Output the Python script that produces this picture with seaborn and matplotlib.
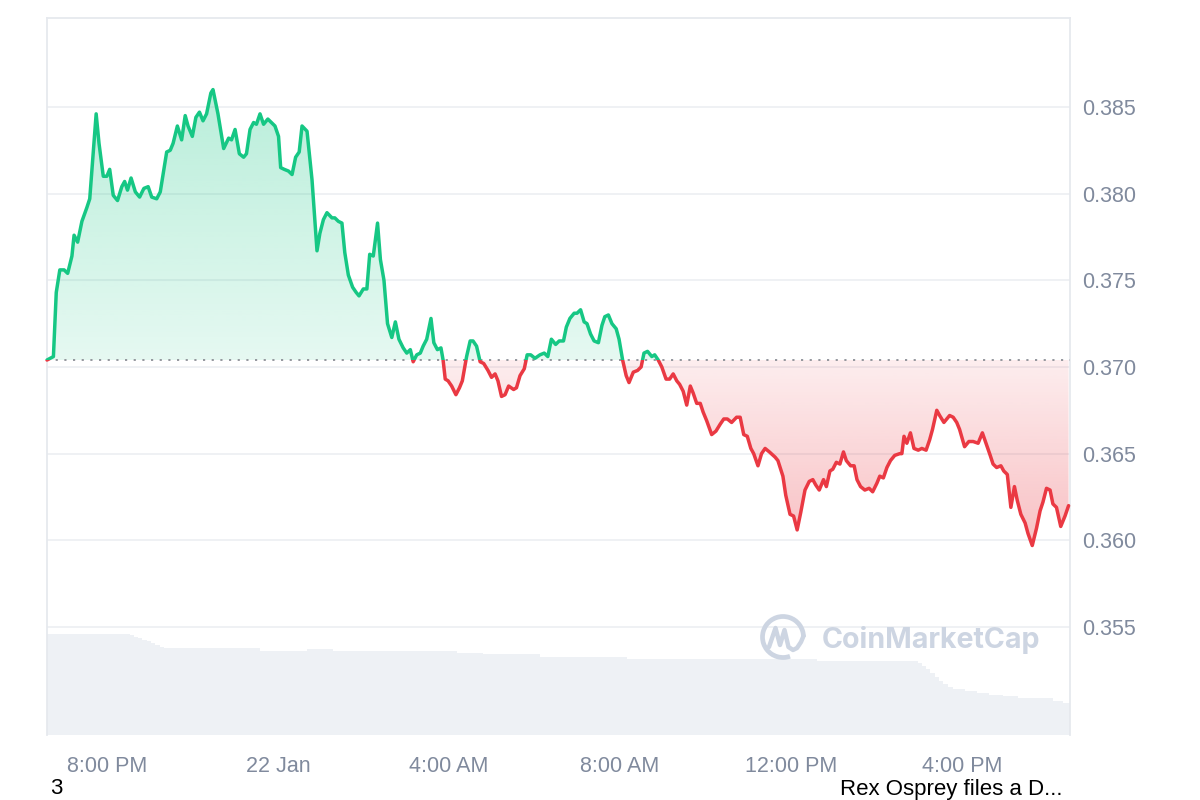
import numpy as np
import pandas as pd
import matplotlib
matplotlib.use("Agg")
import matplotlib.pyplot as plt
import seaborn as sns
from matplotlib.colors import to_rgb
from matplotlib.path import Path
from matplotlib.patches import PathPatch, Rectangle, Arc

# 24h window, minutes after the first sample
start = pd.Timestamp("2025-01-21 18:36")
end_minute = 1436

minutes = [
    0, 9, 13, 18, 24, 29, 35, 38, 43, 49,
    56, 60, 69, 73, 79, 84, 88, 93, 99, 105,
    109, 113, 118, 124, 130, 136, 142, 147, 154, 159,
    168, 173, 177, 183, 189, 194, 198, 204, 209, 214,
    219, 224, 230, 233, 240, 248, 255, 259, 264, 270,
    276, 280, 285, 290, 294, 299, 304, 310, 315, 320,
    325, 328, 333, 339, 344, 349, 354, 358, 365, 372,
    379, 383, 388, 393, 400, 404, 409, 414, 418, 423,
    429, 434, 438, 444, 449, 453, 458, 464, 468, 473,
    478, 484, 489, 494, 500, 505, 510, 514, 519, 524,
    528, 533, 539, 543, 548, 553, 556, 559, 563, 568,
    574, 579, 583, 589, 594, 598, 603, 608, 613, 619,
    624, 629, 633, 638, 643, 648, 655, 659, 664, 670,
    674, 679, 685, 692, 698, 703, 708, 714, 719, 725,
    729, 734, 740, 744, 749, 754, 758, 763, 768, 774,
    779, 783, 788, 793, 799, 803, 808, 813, 817, 823,
    829, 834, 838, 843, 849, 853, 858, 863, 869, 874,
    879, 884, 888, 893, 898, 903, 907, 912, 917, 921,
    926, 933, 939, 945, 950, 955, 961, 968, 973, 978,
    983, 988, 992, 998, 1003, 1008, 1014, 1022, 1026, 1033,
    1037, 1043, 1048, 1053, 1058, 1064, 1070, 1075, 1079, 1084,
    1090, 1094, 1099, 1103, 1108, 1113, 1118, 1122, 1128, 1133,
    1137, 1142, 1148, 1154, 1159, 1165, 1169, 1174, 1179, 1184,
    1190, 1197, 1200, 1203, 1207, 1212, 1217, 1223, 1228, 1234,
    1239, 1243, 1249, 1253, 1259, 1263, 1267, 1272, 1277, 1281,
    1288, 1294, 1300, 1307, 1313, 1319, 1324, 1328, 1333, 1339,
    1343, 1348, 1353, 1358, 1362, 1367, 1373, 1377, 1383, 1389,
    1394, 1398, 1403, 1408, 1412, 1417, 1423, 1429, 1434,
]

price = [
    0.3704, 0.3706, 0.3743, 0.3756, 0.3756, 0.3754, 0.3764, 0.3776, 0.3772, 0.3784,
    0.3792, 0.3797, 0.3846, 0.3829, 0.3810, 0.3810, 0.3814, 0.3799, 0.3796, 0.3804,
    0.3807, 0.3802, 0.3809, 0.3801, 0.3798, 0.3803, 0.3804, 0.3798, 0.3797, 0.3801,
    0.3824, 0.3825, 0.3829, 0.3839, 0.3831, 0.3845, 0.3839, 0.3833, 0.3844, 0.3847,
    0.3842, 0.3846, 0.3858, 0.3860, 0.3846, 0.3826, 0.3832, 0.3831, 0.3837, 0.3823,
    0.3821, 0.3823, 0.3837, 0.3841, 0.3840, 0.3846, 0.3840, 0.3843, 0.3841, 0.3839,
    0.3833, 0.3815, 0.3814, 0.3813, 0.3811, 0.3821, 0.3824, 0.3839, 0.3836, 0.3808,
    0.3767, 0.3777, 0.3785, 0.3789, 0.3786, 0.3786, 0.3784, 0.3783, 0.3766, 0.3753,
    0.3746, 0.3743, 0.3741, 0.3745, 0.3745, 0.3765, 0.3764, 0.3783, 0.3762, 0.3750,
    0.3725, 0.3717, 0.3726, 0.3716, 0.3711, 0.3708, 0.3710, 0.3703, 0.3707, 0.3708,
    0.3712, 0.3716, 0.3728, 0.3714, 0.3710, 0.3711, 0.3704, 0.3693, 0.3692, 0.3689,
    0.3684, 0.3688, 0.3692, 0.3706, 0.3715, 0.3715, 0.3712, 0.3703, 0.3702, 0.3698,
    0.3694, 0.3696, 0.3692, 0.3683, 0.3684, 0.3689, 0.3687, 0.3688, 0.3695, 0.3699,
    0.3707, 0.3707, 0.3705, 0.3707, 0.3708, 0.3706, 0.3716, 0.3713, 0.3715, 0.3715,
    0.3723, 0.3728, 0.3731, 0.3731, 0.3733, 0.3726, 0.3725, 0.3719, 0.3715, 0.3714,
    0.3724, 0.3729, 0.3730, 0.3725, 0.3722, 0.3716, 0.3704, 0.3695, 0.3691, 0.3697,
    0.3698, 0.3700, 0.3708, 0.3709, 0.3706, 0.3707, 0.3704, 0.3700, 0.3693, 0.3693,
    0.3696, 0.3692, 0.3690, 0.3686, 0.3678, 0.3689, 0.3685, 0.3679, 0.3679, 0.3674,
    0.3669, 0.3661, 0.3663, 0.3667, 0.3670, 0.3670, 0.3668, 0.3671, 0.3671, 0.3661,
    0.3660, 0.3653, 0.3650, 0.3643, 0.3650, 0.3653, 0.3651, 0.3648, 0.3646, 0.3637,
    0.3626, 0.3615, 0.3614, 0.3606, 0.3616, 0.3629, 0.3634, 0.3635, 0.3632, 0.3629,
    0.3635, 0.3631, 0.3640, 0.3641, 0.3645, 0.3644, 0.3651, 0.3646, 0.3643, 0.3643,
    0.3635, 0.3631, 0.3629, 0.3630, 0.3628, 0.3633, 0.3637, 0.3636, 0.3642, 0.3646,
    0.3649, 0.3650, 0.3650, 0.3660, 0.3656, 0.3662, 0.3653, 0.3652, 0.3653, 0.3652,
    0.3658, 0.3664, 0.3675, 0.3672, 0.3668, 0.3670, 0.3672, 0.3671, 0.3668, 0.3664,
    0.3654, 0.3657, 0.3657, 0.3656, 0.3662, 0.3655, 0.3649, 0.3644, 0.3642, 0.3643,
    0.3640, 0.3638, 0.3619, 0.3631, 0.3623, 0.3615, 0.3610, 0.3604, 0.3597, 0.3607,
    0.3617, 0.3622, 0.3630, 0.3629, 0.3621, 0.3619, 0.3608, 0.3614, 0.3620,
]

# rolling volume (arbitrary units), step changes
vol_minutes = [0, 116, 122, 128, 134, 140, 146, 152, 158, 164, 299, 365, 401, 575,
               612, 692, 814, 1081, 1222, 1228, 1234, 1240, 1246, 1252, 1258, 1265,
               1272, 1288, 1305, 1323, 1342, 1363, 1384, 1412, 1426]
volume = [10.07, 10.0, 9.85, 9.7, 9.55, 9.4, 9.2, 9.0, 8.85, 8.67, 8.43, 8.6, 8.4,
          8.23, 8.07, 7.83, 7.63, 7.43, 7.25, 6.95, 6.6, 6.2, 5.8, 5.4, 5.1, 4.8,
          4.6, 4.4, 4.23, 4.05, 3.9, 3.75, 3.67, 3.43, 3.25]

tick_times = ["2025-01-21 20:00", "2025-01-22 00:00", "2025-01-22 04:00",
              "2025-01-22 08:00", "2025-01-22 12:00", "2025-01-22 16:00"]
tick_labels = ["8:00 PM", "22 Jan", "4:00 AM", "8:00 AM", "12:00 PM", "4:00 PM"]
price_ticks = [0.355, 0.360, 0.365, 0.370, 0.375, 0.380, 0.385]

GREEN = "#16c784"
RED = "#ea3943"
GRID = "#eef0f3"
LABEL = "#808a9d"

assert len(minutes) == len(price)
assert len(vol_minutes) == len(volume)
df = pd.DataFrame({"minute": minutes, "price": price})
base = price[0]

sns.set_theme(style="white")
plt.rcParams["font.family"] = ["Liberation Sans", "DejaVu Sans"]

fig = plt.figure(figsize=(12, 8), dpi=100)
ax = fig.add_axes([47 / 1200, 65 / 800, 1023 / 1200, 717 / 800])
ax2 = ax.twinx()
ax.set_zorder(ax2.get_zorder() + 1)
ax.patch.set_visible(False)

# volume band
edges = vol_minutes + [end_minute]
ax2.stairs(volume, edges, fill=True, color="#eef1f5", linewidth=0)
ax2.set_ylim(0, 71.7)
ax2.yaxis.set_visible(False)
for s in ax2.spines.values():
    s.set_visible(False)


def gradient_fill(ax, x, y, base, far, color, a_base, a_far, above):
    where = y >= base if above else y <= base
    coll = ax.fill_between(x, y, base, where=where, interpolate=True,
                           facecolor="none", edgecolor="none", linewidth=0)
    clip = PathPatch(Path.make_compound_path(*coll.get_paths()),
                     transform=ax.transData, facecolor="none", edgecolor="none")
    ax.add_patch(clip)
    grad = np.zeros((256, 1, 4))
    grad[..., :3] = to_rgb(color)
    grad[..., 3] = np.linspace(a_base, a_far, 256)[:, None]
    im = ax.imshow(grad, extent=[x.min(), x.max(), base, far], origin="lower",
                   aspect="auto", zorder=2, interpolation="bilinear")
    im.set_clip_path(clip)


x = df["minute"].to_numpy(float)
y = df["price"].to_numpy(float)
gradient_fill(ax, x, y, base, y.max(), GREEN, 0.11, 0.30, True)
gradient_fill(ax, x, y, base, y.min(), RED, 0.09, 0.32, False)

# price line, green above the opening price and red below
sns.lineplot(data=df, x="minute", y="price", ax=ax, color=GREEN, lw=2.5, zorder=4)
up = ax.lines[-1]
sns.lineplot(data=df, x="minute", y="price", ax=ax, color=RED, lw=2.5, zorder=4)
dn = ax.lines[-1]
up.set_clip_path(Rectangle((-100, base), 2000, 1, transform=ax.transData))
dn.set_clip_path(Rectangle((-100, base - 1), 2000, 1, transform=ax.transData))
for ln in (up, dn):
    ln.set_solid_joinstyle("round")
    ln.set_solid_capstyle("round")

ax.axhline(base, color="#8c8f96", lw=1.3, ls=(0, (1.2, 3.6)), zorder=3)

ax.set_xlim(0, end_minute)
ax.set_ylim(0.34877, 0.39013)
tick_pos = [(pd.Timestamp(t) - start).total_seconds() / 60 for t in tick_times]
ax.set_xticks(tick_pos, tick_labels)
ax.yaxis.tick_right()
ax.set_yticks(price_ticks, [f"{v:.3f}" for v in price_ticks])
ax.set_xlabel("")
ax.set_ylabel("")
ax.tick_params(axis="x", length=0, pad=15, labelsize=15.5, labelcolor=LABEL)
ax.tick_params(axis="y", length=0, pad=9, labelsize=15.5, labelcolor=LABEL)
ax.grid(axis="y", color=GRID, lw=1.3, zorder=0)
ax.grid(axis="x", visible=False)
for side in ("left", "top", "right"):
    ax.spines[side].set_color("#e6e9ee")
    ax.spines[side].set_linewidth(1.3)
ax.spines["bottom"].set_visible(False)

# CoinMarketCap watermark
wm = "#cdd5e2"
fig.patches.append(Arc((7.83, 1.63), 0.41, 0.41, theta1=0, theta2=290,
                       transform=fig.dpi_scale_trans, edgecolor=wm, lw=3.4,
                       zorder=5))
mx = np.array([7.69, 7.755, 7.80, 7.845, 7.885, 7.93, 7.97, 8.01, 8.035])
my = np.array([1.53, 1.72, 1.55, 1.70, 1.53, 1.50, 1.52, 1.58, 1.64])
fig.lines.append(plt.Line2D(mx, my, transform=fig.dpi_scale_trans, color=wm,
                            lw=3.2, solid_joinstyle="round", solid_capstyle="round",
                            zorder=5))
fig.text(822 / 1200, 1 - 640 / 800, "CoinMarketCap", color=wm, fontsize=20.6,
         fontweight="bold", family=["Inter", "DejaVu Sans"], va="center", zorder=5)

fig.text(50 / 1200, 1 - 789 / 800, "3", fontsize=16, color="black", va="center")
fig.text(840 / 1200, 1 - 789 / 800, "Rex Osprey files a D...", fontsize=16,
         color="black", va="center")

fig.savefig("out.png", dpi=100, facecolor="white")
